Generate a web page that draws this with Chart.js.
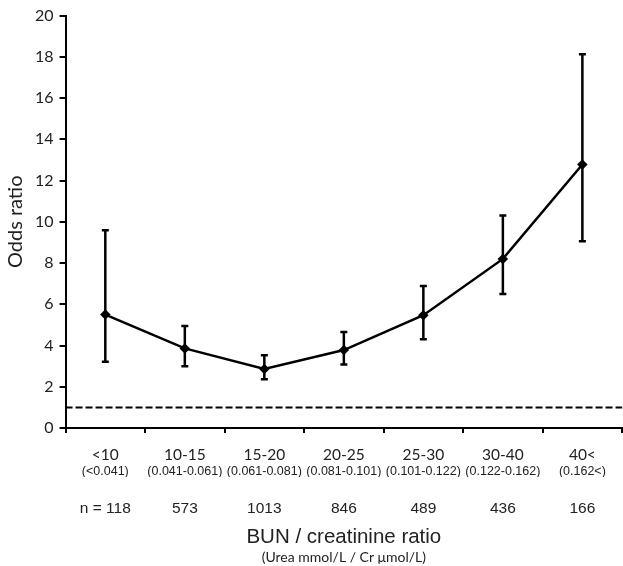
<!DOCTYPE html>
<html>
<head>
<meta charset="utf-8">
<script src="https://cdn.jsdelivr.net/npm/chart.js@4.4.0/dist/chart.umd.min.js"></script>
<style>
html,body{margin:0;padding:0;background:#fff;overflow:hidden;}
#wrap{width:623px;height:566px;overflow:hidden;}
</style>
</head>
<body>
<div id="wrap"><canvas id="c" width="629" height="566"></canvas></div>
<script>
const categories = ['<10','10-15','15-20','20-25','25-30','30-40','40<'];
const ratioRanges = ['(<0.041)','(0.041-0.061)','(0.061-0.081)','(0.081-0.101)','(0.101-0.122)','(0.122-0.162)','(0.162<)'];
const counts = ['n = 118','573','1013','846','489','436','166'];
const oddsRatio = [5.5, 3.86, 2.86, 3.78, 5.47, 8.2, 12.78];
const ciLower = [3.21, 3.0, 2.37, 3.08, 4.31, 6.5, 9.06];
const ciUpper = [9.59, 4.95, 3.53, 4.65, 6.89, 10.31, 18.13];
const referenceValue = 1;
const yMin = 0, yMax = 20, yStep = 2;

const errorBars = {
  id: 'errorBars',
  beforeDatasetsDraw(chart) {
    const ctx = chart.ctx, x = chart.scales.x, y = chart.scales.y;
    const area = chart.chartArea;
    ctx.save();
    const ry = y.getPixelForValue(referenceValue);
    ctx.strokeStyle = '#000';
    ctx.lineWidth = 2;
    ctx.setLineDash([7, 3]);
    ctx.beginPath();
    ctx.moveTo(area.left, ry);
    ctx.lineTo(area.right, ry);
    ctx.stroke();
    ctx.setLineDash([]);
    ctx.lineWidth = 2.5;
    const cap = 3.5;
    for (let i = 0; i < categories.length; i++) {
      const px = x.getPixelForValue(i);
      const lo = y.getPixelForValue(ciLower[i]);
      const hi = y.getPixelForValue(ciUpper[i]);
      ctx.beginPath();
      ctx.moveTo(px, lo); ctx.lineTo(px, hi);
      ctx.moveTo(px - cap, lo); ctx.lineTo(px + cap, lo);
      ctx.moveTo(px - cap, hi); ctx.lineTo(px + cap, hi);
      ctx.stroke();
    }
    ctx.restore();
  }
};

new Chart(document.getElementById('c'), {
  type: 'line',
  data: {
    labels: categories,
    datasets: [{
      data: oddsRatio,
      borderColor: '#000',
      backgroundColor: '#000',
      borderWidth: 2.5,
      pointStyle: 'rectRot',
      pointRadius: 3.5,
      pointHoverRadius: 3.5,
      tension: 0
    }]
  },
  options: {
    responsive: false,
    animation: false,
    events: [],
    layout: { padding: { left: 4, right: 0, top: 6, bottom: -10.2 } },
    plugins: {
      legend: { display: false },
      tooltip: { enabled: false },
      title: { display: false }
    },
    scales: {
      x: {
        type: 'category',
        offset: true,
        border: { display: true, color: '#000', width: 2 },
        grid: { display: true, offset: true, drawOnChartArea: false, color: '#000', lineWidth: 2, tickLength: 5 },
        ticks: { color: '#222', font: { family: 'Lato', size: 15.5, lineHeight: 1.2 }, padding: 12.7, autoSkip: false, maxRotation: 0 }
      },
      x2: {
        type: 'category',
        position: 'bottom',
        labels: ratioRanges,
        offset: true,
        border: { display: false },
        grid: { display: false, drawTicks: false },
        ticks: { color: '#222', font: { family: 'Liberation Sans', size: 12.5, lineHeight: 0.1 }, padding: -6.1, autoSkip: false, maxRotation: 0 }
      },
      x3: {
        type: 'category',
        position: 'bottom',
        labels: counts,
        offset: true,
        border: { display: false },
        grid: { display: false, drawTicks: false },
        ticks: { color: '#222', font: { family: 'Liberation Sans', size: 15.5, lineHeight: 1.2 }, padding: 33.2, autoSkip: false, maxRotation: 0 },
        title: { display: true, text: 'BUN / creatinine ratio', color: '#222', font: { family: 'Liberation Sans', size: 20.5, lineHeight: 1.0 }, padding: { top: -24, bottom: 0 } }
      },
      x4: {
        type: 'category',
        position: 'bottom',
        labels: categories,
        offset: true,
        border: { display: false },
        grid: { display: false, drawTicks: false },
        ticks: { display: false },
        title: { display: true, text: '(Urea mmol/L / Cr \u03bcmol/L)', color: '#222', font: { family: 'Lato', size: 14, lineHeight: 1.1 }, padding: { top: 2.3, bottom: 0 } }
      },
      y: {
        min: yMin, max: yMax,
        border: { display: true, color: '#000', width: 2 },
        grid: { display: true, drawOnChartArea: false, color: '#000', lineWidth: 2, tickLength: 6 },
        ticks: { stepSize: yStep, color: '#222', font: { family: 'Lato', size: 16 }, padding: 6 },
        title: { display: true, text: 'Odds ratio', color: '#222', font: { family: 'Lato', size: 20 }, padding: { top: 0, bottom: 1 } }
      }
    }
  },
  plugins: [errorBars]
});
</script>
</body>
</html>
